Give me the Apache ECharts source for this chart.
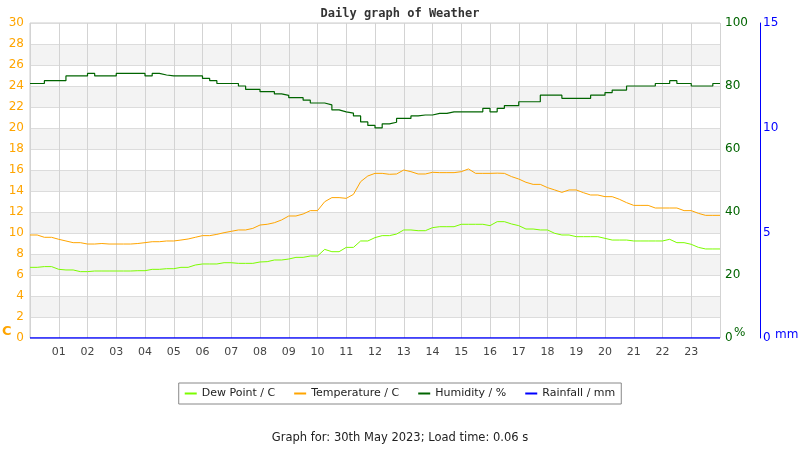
<!DOCTYPE html>
<html>
<head>
<meta charset="utf-8">
<script src="https://cdn.jsdelivr.net/npm/echarts@6/dist/echarts.min.js"></script>
<style>
  html, body { margin: 0; padding: 0; background: #fff; }
  #main { width: 800px; height: 450px; }
</style>
</head>
<body>
<div id="main"></div>
<script>
// readings every 15 minutes, 00:00 .. 24:00
const humidity = [
  80.8, 80.8, 81.7, 81.7, 81.7, 83.2, 83.2, 83.2, 84.0, 83.2, 83.2, 83.2,
  84.0, 84.0, 84.0, 84.0, 83.2, 84.0, 83.5, 83.2, 83.2, 83.2, 83.2, 83.2,
  82.4, 81.7, 80.8, 80.8, 80.8, 80.0, 78.9, 78.9, 78.2, 78.2, 77.5, 77.0,
  76.3, 76.3, 75.5, 74.6, 74.6, 74.0, 72.4, 71.8, 71.4, 70.5, 68.6, 67.5,
  66.7, 68.0, 68.5, 69.7, 69.7, 70.5, 70.8, 70.8, 71.3, 71.3, 71.8, 71.8,
  71.8, 71.8, 71.8, 72.9, 71.8, 72.9, 73.8, 73.8, 75.0, 75.0, 75.0, 77.1,
  77.1, 77.1, 76.1, 76.1, 76.1, 76.1, 77.1, 77.1, 77.9, 78.7, 78.7, 80.0,
  80.0, 80.0, 80.0, 80.8, 80.8, 81.7, 80.8, 80.8, 80.0, 80.0, 80.0, 80.8,
  80.8
];
const temperature = [
  9.81, 9.81, 9.59, 9.59, 9.40, 9.24, 9.08, 9.08, 8.95, 8.95, 9.00, 8.95,
  8.95, 8.95, 8.95, 9.00, 9.08, 9.17, 9.17, 9.24, 9.24, 9.33, 9.43, 9.59,
  9.75, 9.75, 9.87, 10.03, 10.16, 10.29, 10.29, 10.44, 10.76, 10.83, 10.98, 11.24,
  11.62, 11.62, 11.81, 12.13, 12.13, 12.98, 13.37, 13.37, 13.30, 13.68, 14.89, 15.43,
  15.68, 15.68, 15.59, 15.62, 16.00, 15.84, 15.62, 15.62, 15.78, 15.75, 15.75, 15.75,
  15.84, 16.10, 15.68, 15.68, 15.68, 15.70, 15.68, 15.37, 15.14, 14.83, 14.63, 14.63,
  14.32, 14.10, 13.87, 14.10, 14.10, 13.84, 13.62, 13.62, 13.46, 13.46, 13.21, 12.89,
  12.63, 12.63, 12.63, 12.38, 12.38, 12.38, 12.38, 12.13, 12.13, 11.87, 11.68, 11.68,
  11.68
];
const dewPoint = [
  6.73, 6.73, 6.80, 6.80, 6.54, 6.48, 6.48, 6.32, 6.32, 6.38, 6.38, 6.38,
  6.38, 6.38, 6.38, 6.41, 6.41, 6.54, 6.54, 6.60, 6.60, 6.73, 6.73, 6.95,
  7.05, 7.05, 7.05, 7.17, 7.17, 7.11, 7.11, 7.11, 7.24, 7.27, 7.43, 7.43,
  7.52, 7.68, 7.68, 7.81, 7.81, 8.44, 8.22, 8.22, 8.63, 8.63, 9.24, 9.24,
  9.56, 9.75, 9.75, 9.90, 10.29, 10.29, 10.22, 10.22, 10.51, 10.60, 10.60, 10.60,
  10.83, 10.83, 10.83, 10.83, 10.70, 11.08, 11.08, 10.86, 10.70, 10.38, 10.38, 10.29,
  10.29, 9.97, 9.81, 9.81, 9.65, 9.65, 9.65, 9.65, 9.49, 9.33, 9.33, 9.33,
  9.24, 9.24, 9.24, 9.24, 9.24, 9.40, 9.08, 9.08, 8.92, 8.63, 8.48, 8.48,
  8.48
];
const rainTimes = [0, 24];
const rainfall = [0, 0];

const hours = humidity.map((_, i) => i / 4);
const pair = (ts, vs) => vs.map((v, i) => [ts[i], v]);

const chart = echarts.init(document.getElementById('main'));
const font = 'DejaVu Sans';

chart.setOption({
  animation: false,
  title: {
    text: 'Daily graph of Weather',
    left: 'center',
    top: 3,
    textStyle: { fontFamily: 'DejaVu Sans Mono', fontSize: 12, fontWeight: 'bold', color: '#333' }
  },
  legend: {
    top: 383,
    left: 'center',
    borderColor: '#888',
    borderWidth: 1,
    padding: [5, 6],
    itemGap: 19,
    itemWidth: 12,
    itemHeight: 2,
    icon: 'rect',
    textStyle: { fontFamily: font, fontSize: 11, color: '#222' },
    data: ['Dew Point / C', 'Temperature / C', 'Humidity / %', 'Rainfall / mm']
  },
  graphic: [
    { type: 'text', left: 'center', top: 432,
      style: { text: 'Graph for: 30th May 2023; Load time: 0.06 s', font: '11.5px "DejaVu Sans"', fill: '#222' } },
    { type: 'text', left: 2, top: 325,
      style: { text: 'C', font: 'bold 13px "DejaVu Sans"', fill: '#ffa500' } },
    { type: 'text', left: 734, top: 327,
      style: { text: '%', font: '12px "DejaVu Sans"', fill: '#006400' } },
    { type: 'text', left: 775, top: 329,
      style: { text: 'mm', font: '12px "DejaVu Sans"', fill: '#0000ff' } }
  ],
  grid: {
    left: 30, right: 80, top: 23, bottom: 112,
    show: true, borderColor: '#ccc', borderWidth: 1
  },
  xAxis: {
    type: 'value', min: 0, max: 24, interval: 1,
    axisLine: { show: false },
    axisTick: { show: false },
    splitLine: { show: true, lineStyle: { color: '#d3d3d3', width: 1 } },
    axisLabel: {
      margin: 9, color: '#444', fontFamily: font, fontSize: 11,
      formatter: v => (v === 0 || v === 24) ? '' : String(v).padStart(2, '0')
    }
  },
  yAxis: [
    {
      type: 'value', min: 0, max: 30, interval: 2, position: 'left',
      axisLine: { show: false }, axisTick: { show: false },
      axisLabel: { color: '#ffa500', fontFamily: font, fontSize: 12, margin: 6 },
      splitLine: { lineStyle: { color: '#dcdcdc' } },
      splitArea: { show: true, areaStyle: { color: ['#ffffff', '#f3f3f3'] } }
    },
    {
      type: 'value', min: 0, max: 100, interval: 20, position: 'right',
      axisLine: { show: false }, axisTick: { show: false },
      axisLabel: { color: '#006400', fontFamily: font, fontSize: 12, margin: 5 },
      splitLine: { show: false }
    },
    {
      type: 'value', min: 0, max: 15, interval: 5, position: 'right', offset: 40,
      axisLine: { show: true, lineStyle: { color: '#0000ff', width: 1 } },
      axisTick: { show: false },
      axisLabel: { color: '#0000ff', fontFamily: font, fontSize: 12, margin: 3 },
      splitLine: { show: false }
    }
  ],
  series: [
    { name: 'Dew Point / C', type: 'line', yAxisIndex: 0, showSymbol: false,
      color: '#7cfc00', lineStyle: { width: 1 }, data: pair(hours, dewPoint) },
    { name: 'Temperature / C', type: 'line', yAxisIndex: 0, showSymbol: false,
      color: '#ffa500', lineStyle: { width: 1 }, data: pair(hours, temperature) },
    { name: 'Humidity / %', type: 'line', step: 'end', yAxisIndex: 1, showSymbol: false,
      color: '#006400', lineStyle: { width: 1.2 }, data: pair(hours, humidity) },
    { name: 'Rainfall / mm', type: 'line', yAxisIndex: 2, showSymbol: false,
      color: '#0000ff', lineStyle: { width: 1.5 }, data: pair(rainTimes, rainfall) }
  ]
});
</script>
</body>
</html>
